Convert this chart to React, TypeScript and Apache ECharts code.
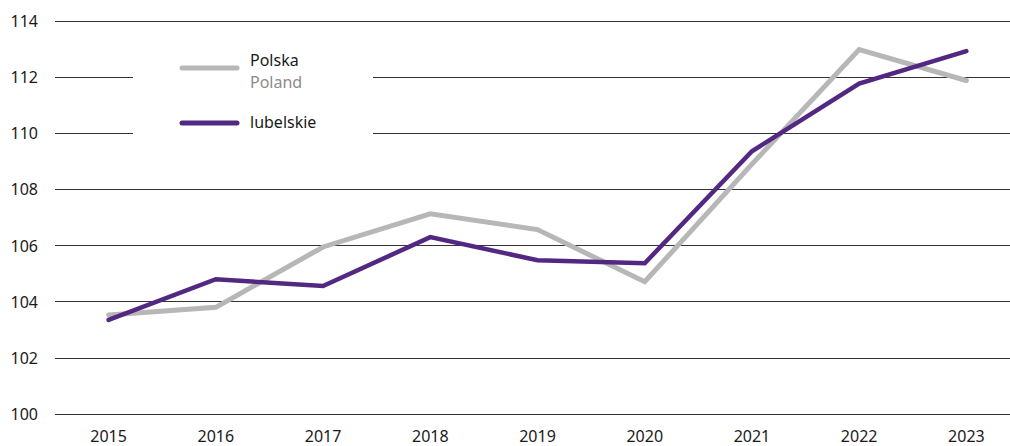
import React, { useEffect, useRef } from "react";
import * as echarts from "echarts";

const years = ["2015", "2016", "2017", "2018", "2019", "2020", "2021", "2022", "2023"];
const polska = [103.53, 103.8, 105.95, 107.13, 106.57, 104.71, 108.9, 112.98, 111.88];
const lubelskie = [103.35, 104.8, 104.56, 106.3, 105.48, 105.37, 109.36, 111.77, 112.93];
const yTicks = { min: 100, max: 114, interval: 2 };
const legendTexts = { polska: "Polska", poland: "Poland", lubelskie: "lubelskie" };

const FONT = "'Noto Sans', 'Open Sans', sans-serif";
const GRAY = "#b7b7b7";
const PURPLE = "#522883";

export default function App() {
  const ref = useRef<HTMLDivElement>(null);
  useEffect(() => {
    if (!ref.current) return;
    const chart = echarts.init(ref.current, undefined, { renderer: "svg" });
    chart.setOption({
      animation: false,
      backgroundColor: "#ffffff",
      grid: { left: 55, top: 21, bottom: 32, right: 0, containLabel: false },
      xAxis: {
        type: "category",
        data: years,
        boundaryGap: true,
        axisLine: { show: false },
        axisTick: { show: false },
        axisLabel: { color: "#1a1a1a", fontSize: 16, fontFamily: FONT, margin: 14 },
        splitLine: { show: false },
      },
      yAxis: {
        type: "value",
        min: yTicks.min,
        max: yTicks.max,
        interval: yTicks.interval,
        axisLine: { show: false },
        axisTick: { show: false },
        axisLabel: { color: "#1a1a1a", fontSize: 16, fontFamily: FONT, margin: 17 },
        splitLine: { show: true, lineStyle: { color: "#333333", width: 1 } },
      },
      series: [
        {
          name: legendTexts.polska,
          type: "line",
          data: polska,
          showSymbol: false,
          symbol: "none",
          lineStyle: { color: GRAY, width: 5, cap: "round", join: "miter" },
          itemStyle: { color: GRAY },
          z: 2,
        },
        {
          name: legendTexts.lubelskie,
          type: "line",
          data: lubelskie,
          showSymbol: false,
          symbol: "none",
          lineStyle: { color: PURPLE, width: 4.5, cap: "round", join: "miter" },
          itemStyle: { color: PURPLE },
          z: 3,
        },
      ],
      graphic: [
        { type: "rect", z: 100, shape: { x: 133, y: 50, width: 240, height: 95 }, style: { fill: "#ffffff" } },
        {
          type: "line",
          z: 101,
          shape: { x1: 182, y1: 68, x2: 237, y2: 68 },
          style: { stroke: GRAY, lineWidth: 5, lineCap: "round" },
        },
        {
          type: "line",
          z: 101,
          shape: { x1: 182, y1: 123, x2: 237, y2: 123 },
          style: { stroke: PURPLE, lineWidth: 5, lineCap: "round" },
        },
        {
          type: "text",
          z: 101,
          x: 250,
          y: 60,
          style: { text: legendTexts.polska, fill: "#1a1a1a", fontSize: 16, fontFamily: FONT, verticalAlign: "middle" },
        },
        {
          type: "text",
          z: 101,
          x: 250,
          y: 82,
          style: { text: legendTexts.poland, fill: "#8c8c8c", fontSize: 16, fontFamily: FONT, verticalAlign: "middle" },
        },
        {
          type: "text",
          z: 101,
          x: 250,
          y: 122,
          style: { text: legendTexts.lubelskie, fill: "#1a1a1a", fontSize: 16, fontFamily: FONT, verticalAlign: "middle" },
        },
      ],
    });
    return () => chart.dispose();
  }, []);
  return (
    <div style={{ position: "fixed", left: 0, top: 0, width: 1010, height: 446, overflow: "hidden", background: "#fff" }}>
      <div ref={ref} style={{ position: "absolute", left: 0, top: 0, width: 1020, height: 446 }} />
    </div>
  );
}
